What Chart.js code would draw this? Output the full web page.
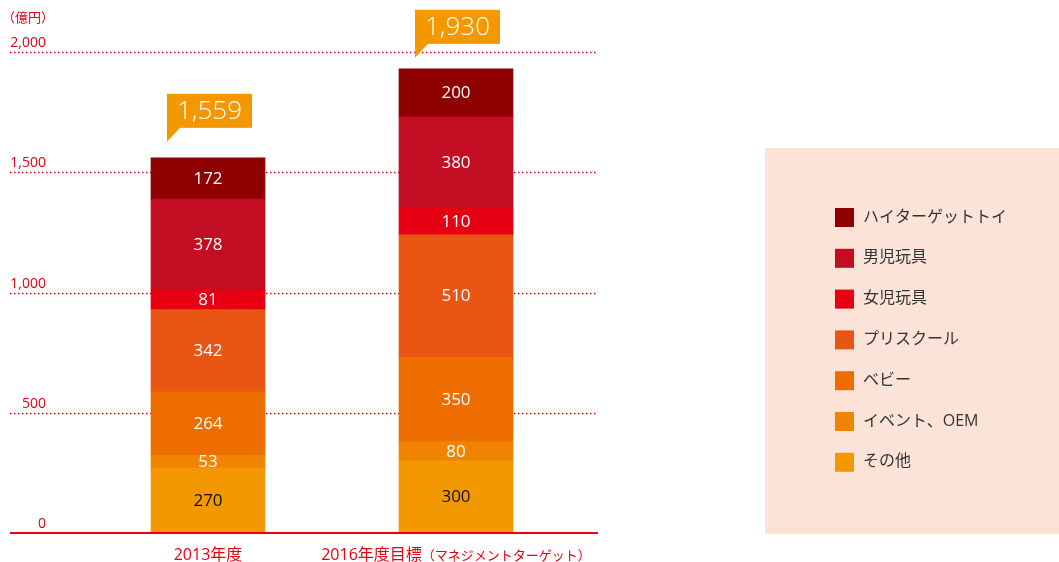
<!DOCTYPE html>
<html>
<head>
<meta charset="utf-8">
<script src="https://cdn.jsdelivr.net/npm/chart.js@4"></script>
<style>
  html, body { margin: 0; padding: 0; background: #fff; }
  #wrap { width: 1059px; height: 562px; position: relative; }
</style>
</head>
<body>
<div id="wrap"><canvas id="sales"></canvas></div>
<script>
const years = ['2013年度', '2016年度目標'];
const yearNotes = ['', '（マネジメントターゲット）'];
const totals = [1559, 1930];
const yTicks = [0, 500, 1000, 1500, 2000];

// bottom to top
const segNames = ['その他', 'イベント、OEM', 'ベビー', 'プリスクール', '女児玩具', '男児玩具', 'ハイターゲットトイ'];
const other = [270, 300];
const eventOem = [53, 80];
const baby = [264, 350];
const preschool = [342, 510];
const girls = [81, 110];
const boys = [378, 380];
const highTarget = [172, 200];
const segColors = ['#f39800', '#f08300', '#ed6d00', '#e95513', '#e60012', '#c30d23', '#8f0000'];
const segText = ['#111', '#fff', '#fff', '#fff', '#fff', '#fff', '#fff'];

const segValues = [other, eventOem, baby, preschool, girls, boys, highTarget];
const red = '#e60012';
const jp = '"Open Sans", "Noto Sans CJK JP", sans-serif';
const calloutGap = [30, 25];

const ctx = document.getElementById('sales');

const decor = {
    id: 'decor',
    beforeDatasetsDraw(chart) {
        const c = chart.ctx;
        const y = chart.scales.y;
        c.save();
        c.strokeStyle = red;
        c.fillStyle = red;
        c.font = '14px ' + jp;
        c.textAlign = 'right';
        c.textBaseline = 'alphabetic';
        for (const t of yTicks) {
            const py = Math.round(y.getPixelForValue(t));
            if (t > 0) {
                c.lineWidth = 1.5;
                c.setLineDash([1.5, 2.5]);
                c.beginPath();
                c.moveTo(10, py + 0.5);
                c.lineTo(598, py + 0.5);
                c.stroke();
            }
            c.fillText(t.toLocaleString('en-US'), 46, py - 5);
        }
        c.setLineDash([]);
        c.textAlign = 'left';
        c.font = '13px ' + jp;
        c.fillText('（億円）', 2, 22);
        c.restore();
    },
    afterDatasetsDraw(chart) {
        const c = chart.ctx;
        const x = chart.scales.x;
        const y = chart.scales.y;
        c.save();
        c.strokeStyle = red;
        c.lineWidth = 2;
        c.beginPath();
        c.moveTo(10, y.getPixelForValue(0));
        c.lineTo(598, y.getPixelForValue(0));
        c.stroke();

        // segment values
        c.font = '17px ' + jp;
        c.textAlign = 'center';
        c.textBaseline = 'middle';
        chart.data.datasets.forEach((ds, di) => {
            const meta = chart.getDatasetMeta(di);
            meta.data.forEach((bar, i) => {
                c.fillStyle = segText[di];
                c.fillText(String(ds.data[i]), bar.x, (bar.y + bar.base) / 2 + 0.5);
            });
        });

        // totals callouts
        const top = chart.getDatasetMeta(chart.data.datasets.length - 1);
        top.data.forEach((bar, i) => {
            const left = bar.x - bar.width / 2 + 16;
            const bottom = bar.y - calloutGap[i];
            const w = 85, h = 34;
            c.fillStyle = '#f39800';
            c.fillRect(left, bottom - h, w, h);
            c.beginPath();
            c.moveTo(left, bottom - 1);
            c.lineTo(left + 14, bottom - 1);
            c.lineTo(left, bottom + 14);
            c.closePath();
            c.fill();
            c.fillStyle = '#fff';
            c.font = '300 26px ' + jp;
            c.fillText(totals[i].toLocaleString('en-US'), left + w / 2, bottom - h / 2 + 1);
        });

        // category labels
        c.fillStyle = red;
        c.textBaseline = 'alphabetic';
        years.forEach((lab, i) => {
            const cx = x.getPixelForValue(i);
            c.font = '16px ' + jp;
            const w1 = c.measureText(lab).width;
            c.font = '13px ' + jp;
            const w2 = c.measureText(yearNotes[i]).width;
            const sx = cx - (w1 + w2) / 2;
            c.textAlign = 'left';
            c.font = '16px ' + jp;
            c.fillText(lab, sx, 560);
            c.font = '13px ' + jp;
            c.fillText(yearNotes[i], sx + w1, 560);
        });

        // legend box
        c.fillStyle = '#fce3d8';
        c.fillRect(765, 148, 294, 386);
        c.font = '16px ' + jp;
        c.textBaseline = 'middle';
        for (let k = 0; k < segNames.length; k++) {
            const idx = segNames.length - 1 - k;
            const ry = 217 + k * 40.8;
            c.fillStyle = segColors[idx];
            c.fillRect(835, ry - 9, 19, 19);
            c.fillStyle = '#333';
            c.fillText(segNames[idx], 863, ry);
        }
        c.restore();
    }
};

new Chart(ctx, {
    type: 'bar',
    data: {
        labels: years,
        datasets: segNames.map((name, i) => ({
            label: name,
            data: segValues[i],
            backgroundColor: segColors[i],
            borderWidth: 0,
            barThickness: 114
        }))
    },
    options: {
        responsive: true,
        maintainAspectRatio: false,
        animation: false,
        layout: { padding: { left: 84, right: 479, top: 52, bottom: 29 } },
        plugins: { legend: { display: false }, tooltip: { enabled: false } },
        scales: {
            x: { stacked: true, display: false },
            y: { stacked: true, display: false, min: 0, max: 2000 }
        }
    },
    plugins: [decor]
});
</script>
</body>
</html>
